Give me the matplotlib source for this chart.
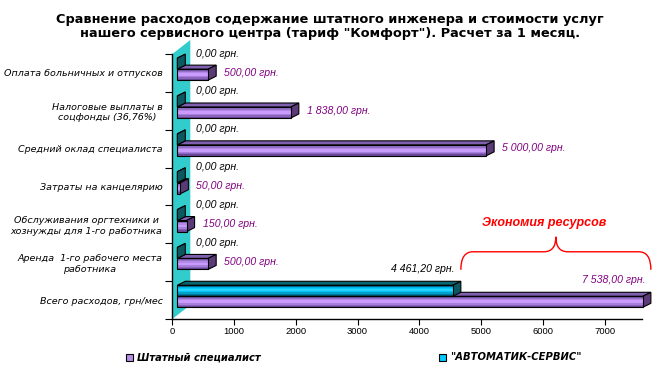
import matplotlib
matplotlib.use("Agg")
import matplotlib.pyplot as plt
import numpy as np
from matplotlib.patches import Polygon, Rectangle, PathPatch
from matplotlib.path import Path

categories = [
    "Оплата больничных и отпусков",
    "Налоговые выплаты в\nсоцфонды (36,76%)",
    "Средний оклад специалиста",
    "Затраты на канцелярию",
    "Обслуживания оргтехники и\nхознужды для 1-го работника",
    "Аренда  1-го рабочего места\nработника",
    "Всего расходов, грн/мес",
]
staff = [500, 1838, 5000, 50, 150, 500, 7538]
service = [0, 0, 0, 0, 0, 0, 4461.2]
staff_labels = ["500,00 грн.", "1 838,00 грн.", "5 000,00 грн.", "50,00 грн.",
                "150,00 грн.", "500,00 грн.", "7 538,00 грн."]
service_labels = ["0,00 грн."] * 6 + ["4 461,20 грн."]
xticks = [0, 1000, 2000, 3000, 4000, 5000, 6000, 7000]
series_names = ["Штатный специалист", '"АВТОМАТИК-СЕРВИС"']

W, H = 659, 368
fig = plt.figure(figsize=(W / 100, H / 100), dpi=100)
ax_l, ax_r, ax_t, ax_b = 172.3, 641.7, 54, 319  # axes box in pixels
ax = fig.add_axes([ax_l / W, 1 - ax_b / H, (ax_r - ax_l) / W, (ax_b - ax_t) / H])
XMAX = 7600
n = len(categories)
ax.set_xlim(0, XMAX)
ax.set_ylim(n - 0.5, -0.5)
kx = XMAX / (ax_r - ax_l)  # data units per pixel
ky = n / (ax_b - ax_t)

dx, dy = 8 * kx, 4 * ky    # bar depth
x0 = 5 * kx                # bars start a bit off the wall
h = 11 * ky                # bar thickness
shift = 0.1                # pair sits a bit above category centre

purple_front = ["#7a56a8", "#9470c8", "#b08ae4", "#cc99ff", "#c89cfa",
                "#a67fdc", "#8a64bc", "#6a4898"]
teal_front = ["#006f96", "#00b4e6", "#00ccff", "#2ed2ff", "#00c4f4",
              "#00a2cc", "#00789a", "#004e66"]

# teal side wall
ax.add_patch(Polygon([(0, -0.5), (18 * kx, -0.5 - 14 * ky), (18 * kx, n - 0.5 - 14 * ky), (0, n - 0.5)],
                     closed=True, fc="#33cccc", ec="none", zorder=1, clip_on=False))


def box(x, yt, yb, w, stripes, top_c, side_c, z):
    x1 = x + w
    ax.add_patch(Polygon([(x, yt), (x + dx, yt - dy), (x1 + dx, yt - dy), (x1, yt)],
                         fc=top_c, ec="black", lw=0.8, zorder=z, clip_on=False))
    ax.add_patch(Polygon([(x1, yt), (x1 + dx, yt - dy), (x1 + dx, yb - dy), (x1, yb)],
                         fc=side_c, ec="black", lw=0.8, zorder=z, clip_on=False))
    if w > 0:
        hh = (yb - yt) / len(stripes)
        for k, c in enumerate(stripes):
            ax.add_patch(Rectangle((x, yt + k * hh), w, hh, fc=c, ec="none", zorder=z, clip_on=False))
        ax.add_patch(Rectangle((x, yt), w, yb - yt, fc="none", ec="black", lw=0.8, zorder=z, clip_on=False))


lab_font = dict(family="Liberation Sans", style="italic", fontsize=7.6, annotation_clip=False)
for i in range(n):
    c = i - shift
    box(x0, c, c + h, staff[i], purple_front, "#7f5fb0", "#5c3a78", 2 + i * 0.01)
    box(x0, c - h, c, service[i], teal_front, "#0a6670", "#0b5860", 3 + i * 0.01)
    if i < n - 1:
        ax.annotate(service_labels[i], (0, c - h / 2), xytext=(24, 10), textcoords="offset pixels",
                    ha="left", va="center", color="black", **lab_font)
        ax.annotate(staff_labels[i], (x0 + staff[i] + dx, c + h / 2), xytext=(8, 2), textcoords="offset pixels",
                    ha="left", va="center", color="#800080", **lab_font)
    else:
        ax.annotate(service_labels[i], (x0 + service[i], c - h / 2), xytext=(2, 22), textcoords="offset pixels",
                    ha="right", va="center", color="black", **lab_font)
        ax.annotate(staff_labels[i], (x0 + staff[i], c + h / 2), xytext=(3, 22), textcoords="offset pixels",
                    ha="right", va="center", color="#800080", **lab_font)

# savings brace between the two totals
xl = x0 + service[-1] + dx
xr = x0 + staff[-1] + dx
xm = (xl + xr) / 2
yend = n - 1 - shift - h / 2 - 21 * ky
yh = yend - 18 * ky
ypk = yh - 15 * ky
verts = [(xl, yend), (xl, yh), (xl + 12 * kx, yh), (xm - 12 * kx, yh), (xm, yh), (xm, ypk),
         (xm, yh), (xm + 12 * kx, yh), (xr - 12 * kx, yh), (xr, yh), (xr, yend)]
codes = [Path.MOVETO, Path.CURVE3, Path.CURVE3, Path.LINETO, Path.CURVE3, Path.CURVE3,
         Path.CURVE3, Path.CURVE3, Path.LINETO, Path.CURVE3, Path.CURVE3]
ax.add_patch(PathPatch(Path(verts, codes), fc="none", ec="red", lw=1, zorder=5, clip_on=False))
ax.text(xm - 12 * kx, ypk - 14 * ky, "Экономия ресурсов", color="red", ha="center", va="center",
        family="Liberation Sans", style="italic", weight="bold", fontsize=9)

# axes styling
ax.set_xticks(xticks)
ax.set_xticklabels([str(t) for t in xticks], family="Liberation Sans", fontsize=6.8)
ax.tick_params(axis="x", length=4, width=0.8, pad=2, colors="black")
ax.set_yticks(range(n))
ax.set_yticklabels(categories, family="DejaVu Sans", style="italic", fontsize=6.8)
for t in ax.get_yticklabels():
    t.set_multialignment("center")
ax.tick_params(axis="y", which="major", length=0, pad=7)
ax.set_yticks(np.arange(-0.5, n, 1), minor=True)
ax.tick_params(axis="y", which="minor", length=5, width=0.8, direction="out")
for s in ["top", "right"]:
    ax.spines[s].set_visible(False)
for s in ["left", "bottom"]:
    ax.spines[s].set_linewidth(1)
    ax.spines[s].set_zorder(6)
ax.patch.set_visible(False)

fig.text(330 / W, 1 - 26 / H,
         "Сравнение расходов содержание штатного инженера и стоимости услуг\n"
         "нашего сервисного центра (тариф \"Комфорт\"). Расчет за 1 месяц.",
         ha="center", va="center", family="DejaVu Sans", weight="bold", fontsize=9.3, linespacing=1.1)

# legend
for px, col, name in [(126, "#b68ee6", series_names[0]), (439, "#00ccff", series_names[1])]:
    fig.add_artist(Rectangle((px / W, 1 - 361 / H), 7 / W, 7 / H, transform=fig.transFigure,
                             fc=col, ec="black", lw=0.8))
    fig.text((px + 11) / W, 1 - 357.5 / H, name, ha="left", va="center", family="DejaVu Sans",
             style="italic", weight="bold", fontsize=7.2)

fig.savefig("out.png", dpi=100)
